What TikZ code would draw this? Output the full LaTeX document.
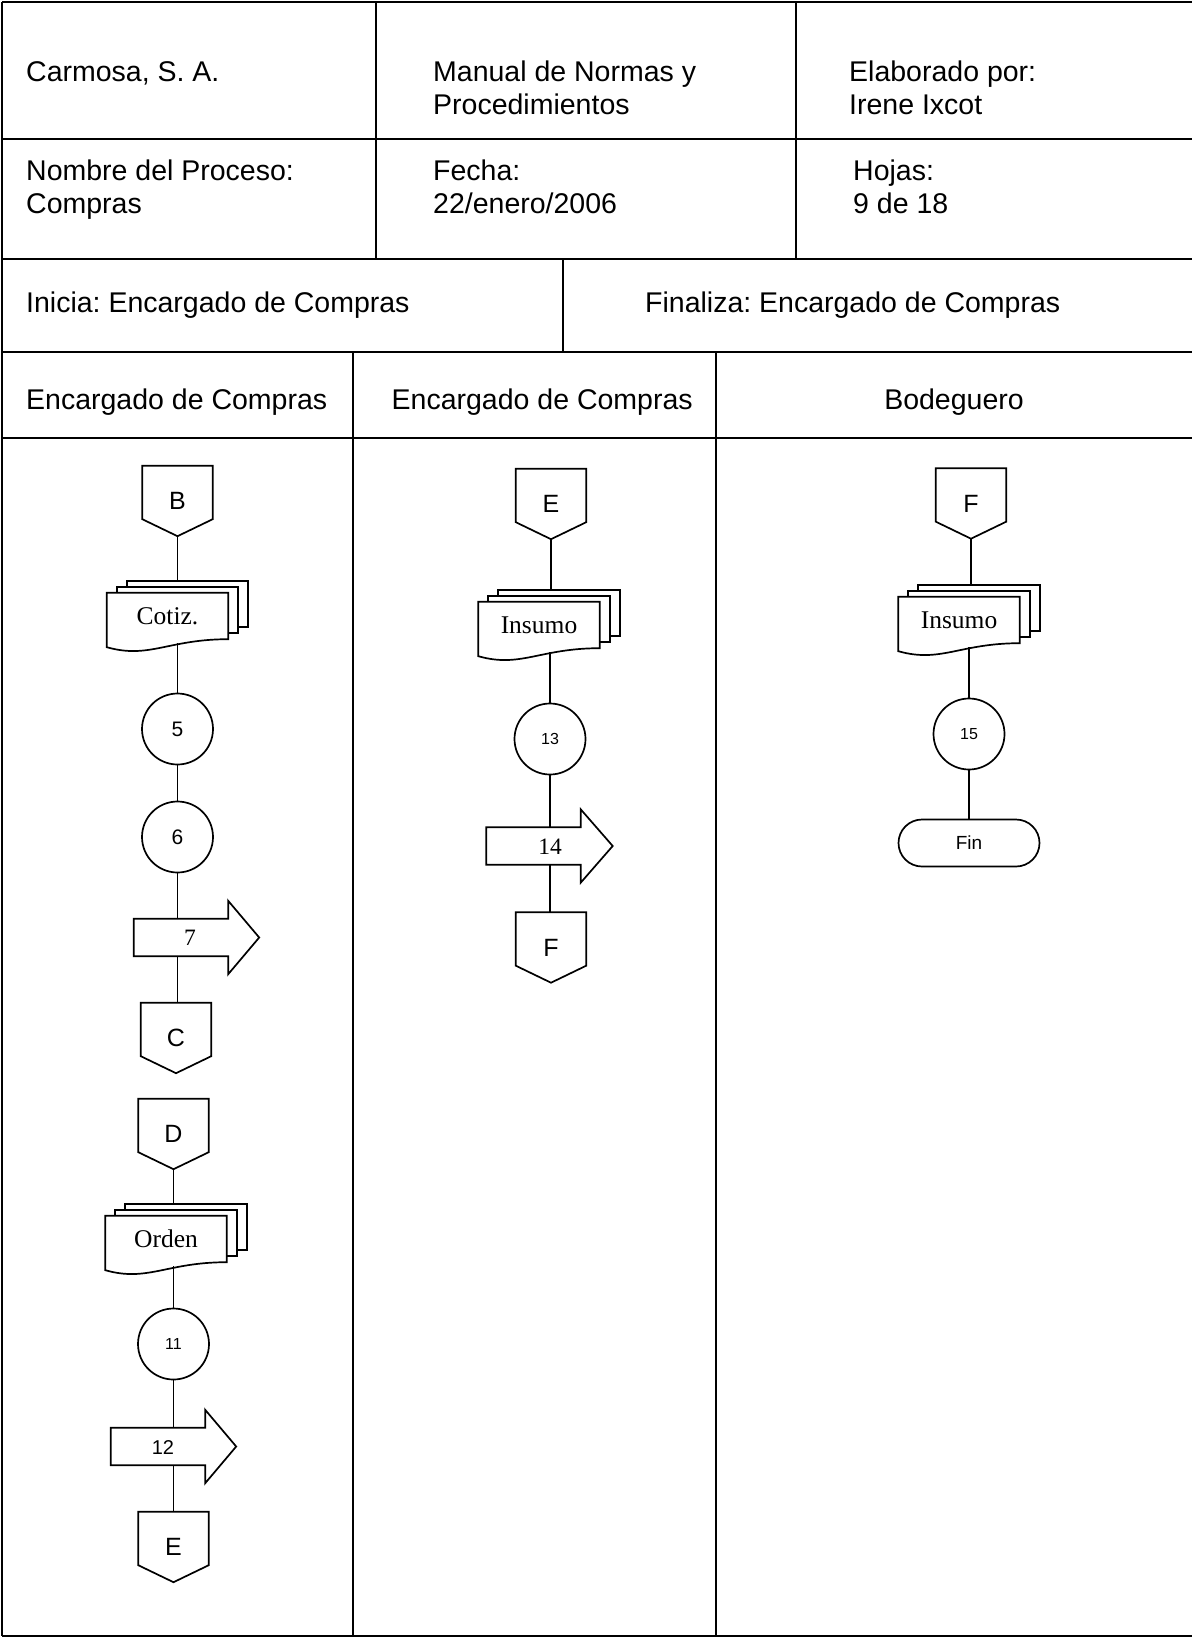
\documentclass[tikz,border=0pt]{standalone}
\usepackage{fontspec}
\setmainfont{Liberation Sans}
\newfontfamily\docfont{Liberation Serif}
\usetikzlibrary{shapes.misc}
\frenchspacing

% off-page connector: box with a downward point
\newcommand\offpageoutline[1]{%
  \draw[shapeline] (#1.north west) -- (#1.north east) -- ([yshift=17pt]#1.south east)
    -- (#1.south) -- ([yshift=17pt]#1.south west) -- cycle;}
% stack of three documents with a wavy lower edge
\newcommand\multidocoutline[1]{%
  \draw[shapeline] ([xshift=20pt,yshift=6pt]#1.north west) -- ([xshift=20pt,yshift=12pt]#1.north west)
    -- ([xshift=20pt,yshift=12pt]#1.north east) -- ([xshift=20pt,yshift=12pt]#1.south east)
    -- ([xshift=10pt,yshift=12pt]#1.south east);
  \draw[shapeline] ([xshift=10pt]#1.north west) -- ([xshift=10pt,yshift=6pt]#1.north west)
    -- ([xshift=10pt,yshift=6pt]#1.north east) -- ([xshift=10pt,yshift=6pt]#1.south east)
    -- ([yshift=6pt]#1.south east);
  \draw[shapeline] (#1.north west) -- (#1.north east) -- (#1.south east)
    .. controls ([xshift=-60pt]#1.south east) and ([xshift=-79pt,yshift=-20pt]#1.south east)
    .. ([yshift=-8pt]#1.south west) -- cycle;}
% block arrow pointing right, drawn around its body node
\newcommand\blockarrow[2]{%
  \draw[shapeline] (#1.north west) -- (#1.north east) -- ([yshift=18pt]#1.north east)
    -- ([xshift=#2]#1.east) -- ([yshift=-18pt]#1.south east) -- (#1.south east)
    -- (#1.south west) -- cycle;}

\begin{document}
\begin{tikzpicture}[x=1pt,y=-1pt,
  grid/.style={line width=2pt},
  shapeline/.style={line width=1.7pt, line join=miter},
  flow/.style={line width=1.7pt},
  head/.style={anchor=base west, inner sep=0pt, font=\fontsize{28.5}{33}\selectfont},
  offpage/.style={minimum width=70pt, minimum height=70pt, inner sep=0pt, font=\fontsize{25}{30}\selectfont},
  docbox/.style={minimum width=121pt, minimum height=46pt, inner sep=0pt, font=\docfont\fontsize{25.5}{30}\selectfont},
  stepcirc/.style={circle, draw, shapeline, minimum size=71pt, inner sep=0pt},
  bignum/.style={font=\fontsize{21}{25}\selectfont},
  smallnum/.style={font=\fontsize{16}{19}\selectfont},
  arrbody/.style={minimum width=94pt, minimum height=37pt, inner sep=0pt},
  endterm/.style={rounded rectangle, draw, shapeline, minimum width=141pt, minimum height=47pt, inner sep=0pt, font=\fontsize{19}{23}\selectfont},
]
\useasboundingbox (0,0) rectangle (1192,1637);

% ---- form frame ----
\draw[grid] (2,2) -- (1192,2);
\draw[grid] (2,2) -- (2,1635.5);
\draw[grid] (2,1635.5) -- (1192,1635.5);
\draw[grid] (2,139) -- (1192,139);
\draw[grid] (2,259) -- (1192,259);
\draw[grid] (2,352) -- (1192,352);
\draw[grid] (2,438) -- (1192,438);
\draw[grid] (376,2) -- (376,259);
\draw[grid] (796,2) -- (796,259);
\draw[grid] (563,259) -- (563,352);
\draw[grid] (353,352) -- (353,1635.5);
\draw[grid] (716,352) -- (716,1635.5);

% ---- header texts ----
\node[head] (empresa) at (26,82) {Carmosa, S. A.};
\node[head] (manual1) at (433,82) {Manual de Normas y};
\node[head] (manual2) at (433,115) {Procedimientos};
\node[head] (autor1) at (849,82) {Elaborado por:};
\node[head] (autor2) at (849,115) {Irene Ixcot};
\node[head] (proceso1) at (26,181) {Nombre del Proceso:};
\node[head] (proceso2) at (26,214) {Compras};
\node[head] (fecha1) at (433,181) {Fecha:};
\node[head] (fecha2) at (433,214) {22/enero/2006};
\node[head] (hojas1) at (853,181) {Hojas:};
\node[head] (hojas2) at (853,214) {9 de 18};
\node[head] (inicia) at (26,312) {Inicia: Encargado de Compras};
\node[head] (finaliza) at (645,312) {Finaliza: Encargado de Compras};
\node[head] (lane1) at (26,409) {Encargado de Compras};
\node[head] (lane2) at (391.5,409) {Encargado de Compras};
\node[head, anchor=base] (lane3) at (954,409) {Bodeguero};

% ---- lane 1 ----
\node[offpage] (B) at (177.5,501) {B};
\offpageoutline{B}
\node[docbox] (cotiz) at (167.5,616) {Cotiz.};
\multidocoutline{cotiz}
\node[stepcirc, bignum] (s5) at (177.5,729) {5};
\node[stepcirc, bignum] (s6) at (177.5,837) {6};
\node[arrbody] (a7) at (181,937.5) {};
\blockarrow{a7}{31pt}
\node[font=\docfont\fontsize{23.5}{28}\selectfont, inner sep=0pt] (t7) at (190,938) {7};
\node[offpage] (C) at (176,1038) {C};
\offpageoutline{C}

\node[offpage] (D) at (173.5,1134) {D};
\offpageoutline{D}
\node[docbox] (orden) at (166,1239) {Orden};
\multidocoutline{orden}
\node[stepcirc, smallnum] (s11) at (173.5,1344) {11};
\node[arrbody] (a12) at (158,1446.5) {};
\blockarrow{a12}{31pt}
\node[font=\fontsize{20}{24}\selectfont, inner sep=0pt] (t12) at (163,1447) {12};
\node[offpage] (E1) at (173.5,1547) {E};
\offpageoutline{E1}

\draw[flow] (B.south) -- ([yshift=12pt]B.south |- cotiz.north);
\draw[flow] ([yshift=-4pt]s5.north |- cotiz.south) -- (s5.north);
\draw[flow] (s5.south) -- (s6.north);
\draw[flow] (s6.south) -- (s6.south |- a7.north);
\draw[flow] (s6.south |- a7.south) -- (s6.south |- C.north);
\draw[flow] (D.south) -- ([yshift=12pt]D.south |- orden.north);
\draw[flow] ([yshift=-4pt]s11.north |- orden.south) -- (s11.north);
\draw[flow] (s11.south) -- (s11.south |- a12.north);
\draw[flow] (s11.south |- a12.south) -- (E1.north);

% ---- lane 2 ----
\node[offpage] (E2) at (551,504) {E};
\offpageoutline{E2}
\node[docbox] (insumo1) at (539,625) {Insumo};
\multidocoutline{insumo1}
\node[stepcirc, smallnum] (s13) at (550,739) {13};
\node[arrbody] (a14) at (533.5,846) {};
\blockarrow{a14}{32pt}
\node[font=\docfont\fontsize{23.5}{28}\selectfont, inner sep=0pt] (t14) at (550,846.5) {14};
\node[offpage] (F2) at (551,947.5) {F};
\offpageoutline{F2}

\draw[flow] (E2.south) -- ([yshift=12pt]E2.south |- insumo1.north);
\draw[flow] ([yshift=-4pt]s13.north |- insumo1.south) -- (s13.north);
\draw[flow] (s13.south) -- (s13.south |- a14.north);
\draw[flow] (s13.south |- a14.south) -- (s13.south |- F2.north);

% ---- lane 3 ----
\node[offpage] (F3) at (971,503.5) {F};
\offpageoutline{F3}
\node[docbox] (insumo2) at (959,620) {Insumo};
\multidocoutline{insumo2}
\node[stepcirc, smallnum] (s15) at (969,734) {15};
\node[endterm] (fin) at (969,843) {Fin};

\draw[flow] (F3.south) -- ([yshift=12pt]F3.south |- insumo2.north);
\draw[flow] ([yshift=-4pt]s15.north |- insumo2.south) -- (s15.north);
\draw[flow] (s15.south) -- (fin.north);
\end{tikzpicture}
\end{document}
